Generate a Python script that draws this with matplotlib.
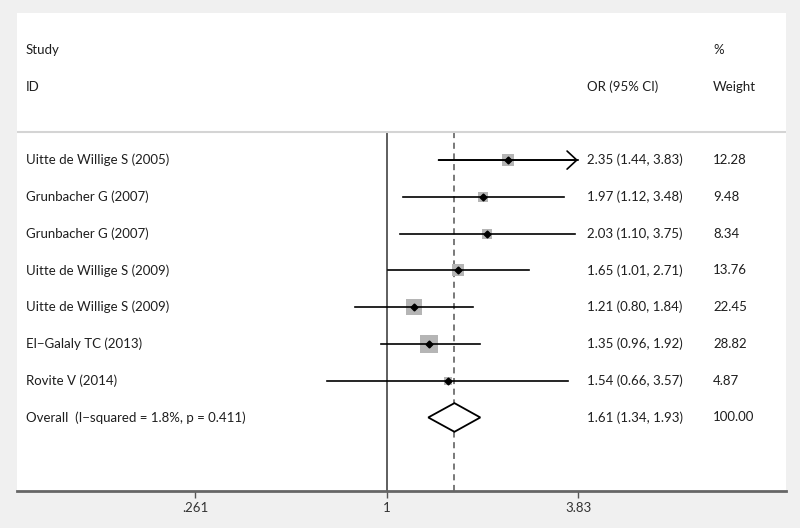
import numpy as np
import matplotlib
matplotlib.use("Agg")
import matplotlib.pyplot as plt
from matplotlib.patches import Polygon

plt.rcParams['font.family'] = ['Lato', 'DejaVu Sans']

studies = ["Uitte de Willige S (2005)", "Grunbacher G (2007)", "Grunbacher G (2007)",
           "Uitte de Willige S (2009)", "Uitte de Willige S (2009)", "El\u2212Galaly TC (2013)",
           "Rovite V (2014)"]
or_est = [2.35, 1.97, 2.03, 1.65, 1.21, 1.35, 1.54]
ci_low = [1.44, 1.12, 1.10, 1.01, 0.80, 0.96, 0.66]
ci_high = [3.83, 3.48, 3.75, 2.71, 1.84, 1.92, 3.57]
weights = [12.28, 9.48, 8.34, 13.76, 22.45, 28.82, 4.87]
overall_label = "Overall  (I\u2212squared = 1.8%, p = 0.411)"
overall = [1.61, 1.34, 1.93, 100.00]
xticks = [0.261, 1, 3.83]
xticklabels = [".261", "1", "3.83"]
axis_max = 3.83

W, H = 800, 528
fig = plt.figure(figsize=(8, 5.28), dpi=100, facecolor="#f0f0f0")
ax = fig.add_axes([17 / W, (H - 491) / H, (786 - 17) / W, (491 - 13) / H])
ax.set_facecolor("white")
ax.set_xscale("log")
ax.set_xlim(0.0749, 16.47)
ax.set_ylim(9, -4)
for s in ["top", "left", "right"]:
    ax.spines[s].set_visible(False)
ax.spines["bottom"].set_color("#666666")
ax.spines["bottom"].set_linewidth(2)
ax.set_yticks([])
ax.set_xticks(xticks)
ax.set_xticklabels(xticklabels)
ax.xaxis.set_minor_locator(matplotlib.ticker.NullLocator())
ax.tick_params(axis="x", length=5, width=1, color="#555555", labelsize=9.5, labelcolor="#333333", pad=3)

txt_col = "#1e1e1e"
fs = 9.5
div_y = -0.76
xt = ax.get_yaxis_transform()  # x in axes fraction, y in data
lx = (26 - 17) / (786 - 17)
ox = (587 - 17) / (786 - 17)
wx = (713 - 17) / (786 - 17)

# headers
ax.text(lx, -3, "Study", transform=xt, ha="left", va="center", fontsize=fs, color=txt_col)
ax.text(lx, -2, "ID", transform=xt, ha="left", va="center", fontsize=fs, color=txt_col)
ax.text(ox, -2, "OR (95% CI)", transform=xt, ha="left", va="center", fontsize=fs, color=txt_col)
ax.text(wx, -3, "%", transform=xt, ha="left", va="center", fontsize=fs, color=txt_col)
ax.text(wx, -2, "Weight", transform=xt, ha="left", va="center", fontsize=fs, color=txt_col)
ax.axhline(div_y, color="#d4d4d4", lw=1.5)

# reference lines
ax.plot([1, 1], [div_y, 9], color="#333333", lw=1.1, zorder=1)
ax.plot([overall[0], overall[0]], [div_y, 9], color="#555555", lw=1.1, ls=(0, (4, 3)), zorder=1)

for i, (name, e, lo, hi, w) in enumerate(zip(studies, or_est, ci_low, ci_high, weights)):
    ax.scatter([e], [i], marker="s", s=6.0 * w, color="#b5b5b5", zorder=2, linewidths=0)
    if hi >= axis_max:
        ax.plot([lo, axis_max], [i, i], color="black", lw=1.2, zorder=3)
        ax.annotate("", xy=(axis_max, i), xytext=(lo, i),
                    arrowprops=dict(arrowstyle="->,head_length=0.7,head_width=0.65",
                                    color="black", lw=1.2, mutation_scale=10,
                                    shrinkA=0, shrinkB=0), zorder=3)
    else:
        ax.plot([lo, hi], [i, i], color="black", lw=1.2, zorder=3)
    ax.plot([e], [i], marker="D", ms=3.5, color="black", zorder=4)
    ax.text(lx, i, name, transform=xt, ha="left", va="center", fontsize=fs, color=txt_col)
    ax.text(ox, i, f"{e:.2f} ({lo:.2f}, {hi:.2f})", transform=xt, ha="left", va="center",
            fontsize=fs, color=txt_col)
    ax.text(wx, i, f"{w:.2f}", transform=xt, ha="left", va="center", fontsize=fs, color=txt_col)

# overall
yo = len(studies)
e, lo, hi, w = overall
dia = Polygon([(lo, yo), (e, yo - 0.39), (hi, yo), (e, yo + 0.39)], closed=True,
              facecolor="white", edgecolor="black", lw=1.3, zorder=3)
ax.add_patch(dia)
ax.text(lx, yo, overall_label, transform=xt, ha="left", va="center", fontsize=fs, color=txt_col)
ax.text(ox, yo, f"{e:.2f} ({lo:.2f}, {hi:.2f})", transform=xt, ha="left", va="center",
        fontsize=fs, color=txt_col)
ax.text(wx, yo, f"{w:.2f}", transform=xt, ha="left", va="center", fontsize=fs, color=txt_col)

fig.savefig("out.png", dpi=100, facecolor=fig.get_facecolor())
